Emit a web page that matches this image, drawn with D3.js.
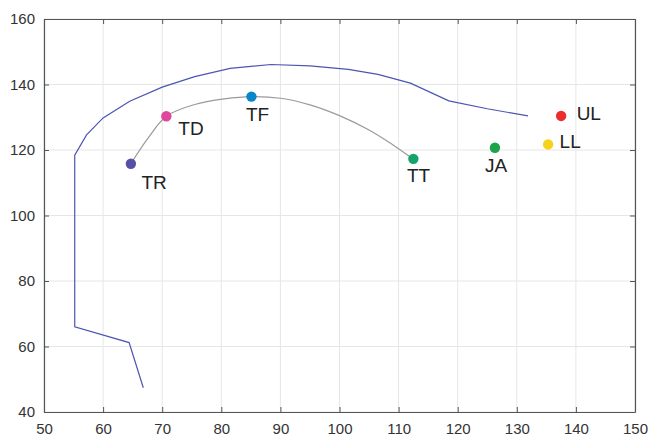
<!DOCTYPE html>
<html>
<head>
<meta charset="utf-8">
<script src="https://cdn.jsdelivr.net/npm/d3@7"></script>
<style>
  html, body { margin: 0; padding: 0; background: #fff; }
  svg { display: block; font-family: "Liberation Sans", Arial, Helvetica, sans-serif; }
</style>
</head>
<body>
<svg id="chart" width="649" height="445"></svg>
<script>
// ---- data ----
const xTicks = [50, 60, 70, 80, 90, 100, 110, 120, 130, 140, 150];
const yTicks = [40, 60, 80, 100, 120, 140, 160];

// outer envelope (blue)
const envelopeX = [66.8, 64.4, 55.2, 55.2, 57.2, 60.0, 64.5, 70.0, 75.5, 81.5, 88.4, 95.0, 101.5, 106.5, 112.0, 118.5, 125.0, 131.9];
const envelopeY = [47.4, 61.2, 66.0, 118.4, 124.6, 129.8, 134.9, 139.2, 142.4, 144.9, 146.1, 145.7, 144.6, 143.1, 140.4, 135.0, 132.6, 130.4];

// trajectory through TR -> TD -> TF -> TT (gray)
const pathX = [64.7, 67.6, 70.7, 75.5, 80.5, 85.2, 90.0, 95.0, 100.0, 105.0, 109.0, 112.4];
const pathY = [115.8, 123.6, 130.3, 133.9, 135.6, 136.3, 135.8, 133.8, 130.5, 126.1, 121.6, 117.3];

// labelled points
const pointNames = ["TR", "TD", "TF", "TT", "JA", "LL", "UL"];
const pointX = [64.7, 70.7, 85.1, 112.5, 126.3, 135.3, 137.5];
const pointY = [115.8, 130.3, 136.3, 117.3, 120.7, 121.7, 130.4];

// ---- styling / layout ----
const pointColors = ["#5651a6", "#e0479c", "#0a86c8", "#13a46c", "#1ba54b", "#f6d21a", "#ec2d2e"];
const labelOffsets = [[10.5, 25], [12, 18.7], [-5.5, 24.7], [-6.5, 22.7], [-10, 24], [11.5, 3.6], [15.5, 4.2]];

const svg = d3.select("#chart");
const m = { left: 44, right: 635, top: 19, bottom: 412 };

const x = d3.scaleLinear().domain([50, 150]).range([m.left, m.right]);
const y = d3.scaleLinear().domain([40, 160]).range([m.bottom, m.top]);

// grid
const grid = svg.append("g");
grid.selectAll("line.gx").data(xTicks).join("line")
  .attr("x1", d => x(d)).attr("x2", d => x(d))
  .attr("y1", m.top).attr("y2", m.bottom)
  .attr("stroke", "#e6e6e6").attr("stroke-width", 1);
grid.selectAll("line.gy").data(yTicks).join("line")
  .attr("x1", m.left).attr("x2", m.right)
  .attr("y1", d => y(d)).attr("y2", d => y(d))
  .attr("stroke", "#e6e6e6").attr("stroke-width", 1);

// axes (ticks inside, MATLAB style)
const axisColor = "#555";
const fontSize = "15px";
function styleAxis(g) {
  g.select(".domain").attr("stroke", axisColor).attr("stroke-width", 1.2);
  g.selectAll(".tick line").attr("stroke", axisColor);
  g.selectAll(".tick text").attr("fill", "#333").style("font-size", fontSize)
    .style("font-family", '"Liberation Sans", Arial, sans-serif');
}
svg.append("g").attr("transform", `translate(0,${m.bottom})`)
  .call(d3.axisBottom(x).tickValues(xTicks).tickSizeInner(-5).tickSizeOuter(0).tickPadding(11))
  .call(styleAxis);
svg.append("g").attr("transform", `translate(${m.left},0)`)
  .call(d3.axisLeft(y).tickValues(yTicks).tickSizeInner(-5).tickSizeOuter(0).tickPadding(9))
  .call(styleAxis);
svg.append("g").attr("transform", `translate(0,${m.top})`)
  .call(d3.axisTop(x).tickValues(xTicks).tickSizeInner(-5).tickSizeOuter(0).tickFormat(""))
  .call(styleAxis);
svg.append("g").attr("transform", `translate(${m.right},0)`)
  .call(d3.axisRight(y).tickValues(yTicks).tickSizeInner(-5).tickSizeOuter(0).tickFormat(""))
  .call(styleAxis);

// envelope
const envData = envelopeX.map((v, i) => [v, envelopeY[i]]);
svg.append("path")
  .datum(envData)
  .attr("fill", "none")
  .attr("stroke", "#4b56b0")
  .attr("stroke-width", 1.2)
  .attr("d", d3.line().x(d => x(d[0])).y(d => y(d[1])));

// trajectory
const pathData = pathX.map((v, i) => [v, pathY[i]]);
svg.append("path")
  .datum(pathData)
  .attr("fill", "none")
  .attr("stroke", "#9a9a9a")
  .attr("stroke-width", 1.2)
  .attr("d", d3.line().curve(d3.curveCatmullRom.alpha(0.5)).x(d => x(d[0])).y(d => y(d[1])));

// points
const pts = pointNames.map((n, i) => ({ name: n, x: pointX[i], y: pointY[i], c: pointColors[i], o: labelOffsets[i] }));
svg.append("g").selectAll("circle").data(pts).join("circle")
  .attr("cx", d => x(d.x)).attr("cy", d => y(d.y))
  .attr("r", 5.2)
  .attr("fill", d => d.c);

svg.append("g").selectAll("text").data(pts).join("text")
  .attr("x", d => x(d.x) + d.o[0])
  .attr("y", d => y(d.y) + d.o[1])
  .attr("fill", "#222")
  .style("font-size", "19px")
  .text(d => d.name);
</script>
</body>
</html>
